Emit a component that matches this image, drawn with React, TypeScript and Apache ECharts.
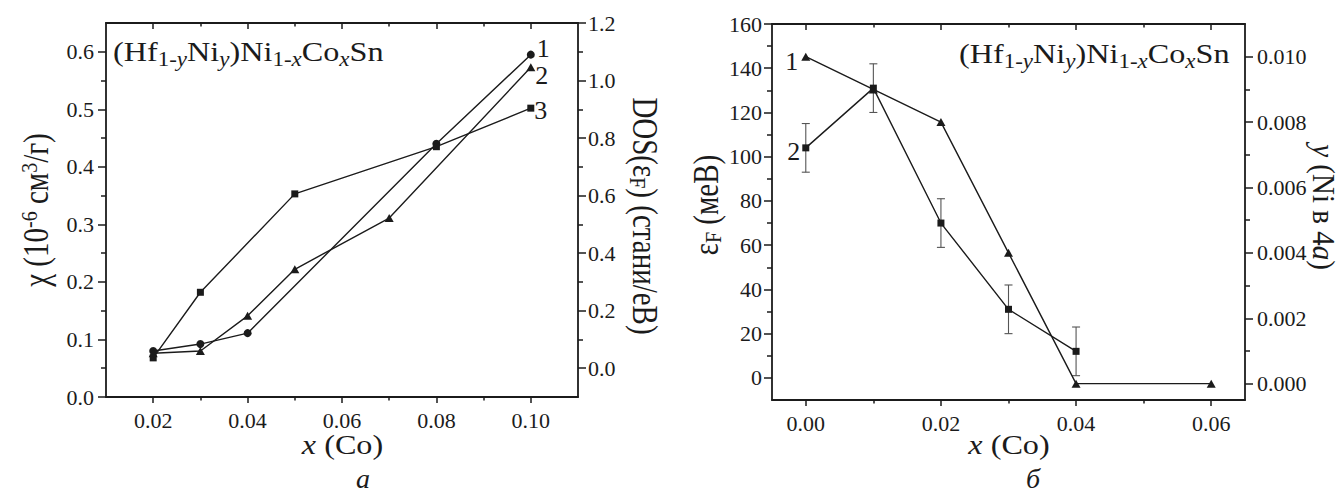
import React, { useEffect, useRef } from 'react';
import * as echarts from 'echarts';

const FONT = 'Liberation Serif';
const INK = '#1b1b1b';

// ---------- panel a ----------
const aCircX = [0.02, 0.03, 0.04, 0.08, 0.10];
const aCircY = [0.080, 0.092, 0.111, 0.440, 0.595];
const aTriX = [0.02, 0.03, 0.04, 0.05, 0.07, 0.10];
const aTriY = [0.076, 0.080, 0.141, 0.222, 0.311, 0.573];
const aSqX = [0.02, 0.03, 0.05, 0.08, 0.10];
const aSqY = [0.068, 0.182, 0.353, 0.435, 0.502];
const aCurveLabels = ['1', '2', '3'];
const aXMajor = [0.02, 0.04, 0.06, 0.08, 0.10];
const aXMinor = [0.03, 0.05, 0.07, 0.09];
const aYLMajor = [0, 0.1, 0.2, 0.3, 0.4, 0.5, 0.6];
const aYLMinor = [0.05, 0.15, 0.25, 0.35, 0.45, 0.55];
const aYRMajor = [0, 0.2, 0.4, 0.6, 0.8, 1.0, 1.2];
const aYRMinor = [0.1, 0.3, 0.5, 0.7, 0.9, 1.1];

// ---------- panel b ----------
const bTriX = [0, 0.01, 0.02, 0.03, 0.04, 0.06];
const bTriY = [0.010, 0.009, 0.008, 0.004, 0.000, 0.000];
const bSqX = [0, 0.01, 0.02, 0.03, 0.04];
const bSqY = [104, 131, 70, 31, 12];
const bSqErr = [11, 11, 11, 11, 11];
const bCurveLabels = ['1', '2'];
const bXMajor = [0, 0.02, 0.04, 0.06];
const bXMinor = [0.01, 0.03, 0.05];
const bYLMajor = [0, 20, 40, 60, 80, 100, 120, 140, 160];
const bYLMinor = [10, 30, 50, 70, 90, 110, 130, 150];
const bYRMajor = [0, 0.002, 0.004, 0.006, 0.008, 0.010];
const bYRMinor = [0.001, 0.003, 0.005, 0.007, 0.009];

type AxisSpec = {
  grid: number; pos: string; min: number; max: number; ticks: number[]; len: number;
  inside?: boolean; line?: boolean; labels?: number[]; fmt?: (v: number) => string; margin?: number;
};

function axis(s: AxisSpec) {
  return {
    type: 'value',
    gridIndex: s.grid,
    position: s.pos,
    min: s.min,
    max: s.max,
    axisLine: { show: !!s.line, onZero: false, lineStyle: { color: INK, width: 1.8 } },
    axisTick: {
      show: true, inside: !!s.inside, length: s.len, customValues: s.ticks,
      lineStyle: { color: INK, width: 1.5 },
    },
    axisLabel: s.labels
      ? { show: true, customValues: s.labels, formatter: s.fmt, margin: s.margin ?? 10, fontFamily: FONT, fontSize: 22, color: INK }
      : { show: false },
    splitLine: { show: false },
    minorTick: { show: false },
    axisPointer: { show: false },
  };
}

const f1 = (v: number) => v.toFixed(1);
const f2 = (v: number) => v.toFixed(2);
const f3 = (v: number) => v.toFixed(3);
const f0 = (v: number) => String(Math.round(v));

const xAxes = [
  // panel a
  axis({ grid: 0, pos: 'bottom', min: 0.01, max: 0.11, ticks: aXMajor, len: 6, line: true, labels: aXMajor, fmt: f2, margin: 12 }),
  axis({ grid: 0, pos: 'bottom', min: 0.01, max: 0.11, ticks: aXMinor, len: 3.5 }),
  axis({ grid: 0, pos: 'top', min: 0.01, max: 0.11, ticks: aXMajor, len: 6, inside: true, line: true }),
  axis({ grid: 0, pos: 'top', min: 0.01, max: 0.11, ticks: aXMinor, len: 3.5, inside: true }),
  // panel b
  axis({ grid: 1, pos: 'bottom', min: -0.005, max: 0.065, ticks: bXMajor, len: 6, line: true, labels: bXMajor, fmt: f2, margin: 12 }),
  axis({ grid: 1, pos: 'bottom', min: -0.005, max: 0.065, ticks: bXMinor, len: 3.5 }),
  axis({ grid: 1, pos: 'top', min: -0.005, max: 0.065, ticks: bXMajor, len: 6, inside: true, line: true }),
  axis({ grid: 1, pos: 'top', min: -0.005, max: 0.065, ticks: bXMinor, len: 3.5, inside: true }),
];

const yAxes = [
  // panel a
  axis({ grid: 0, pos: 'left', min: 0, max: 0.65, ticks: aYLMajor, len: 8, line: true, labels: aYLMajor, fmt: f1, margin: 12 }),
  axis({ grid: 0, pos: 'left', min: 0, max: 0.65, ticks: aYLMinor, len: 5 }),
  axis({ grid: 0, pos: 'right', min: -0.1, max: 1.2, ticks: aYRMajor, len: 8, line: true, labels: aYRMajor, fmt: f1, margin: 10 }),
  axis({ grid: 0, pos: 'right', min: -0.1, max: 1.2, ticks: aYRMinor, len: 5 }),
  // panel b
  axis({ grid: 1, pos: 'left', min: -10, max: 160, ticks: bYLMajor, len: 8, line: true, labels: bYLMajor, fmt: f0, margin: 10 }),
  axis({ grid: 1, pos: 'left', min: -10, max: 160, ticks: bYLMinor, len: 5 }),
  axis({ grid: 1, pos: 'right', min: -0.0005, max: 0.011, ticks: bYRMajor, len: 8, line: true, labels: bYRMajor, fmt: f3, margin: 12 }),
  axis({ grid: 1, pos: 'right', min: -0.0005, max: 0.011, ticks: bYRMinor, len: 5 }),
];

const labelBase = { show: true, fontFamily: FONT, fontSize: 26, lineHeight: 19, color: INK };

function pts(xs: number[], ys: number[], labelIdx: number, label: any) {
  return xs.map((x, i) => (i === labelIdx ? { value: [x, ys[i]], label: { ...labelBase, ...label } } : { value: [x, ys[i]] }));
}

const lineBase = {
  type: 'line',
  lineStyle: { color: INK, width: 1.4 },
  itemStyle: { color: INK },
  label: { show: false },
  silent: true,
  z: 3,
};

const series: any[] = [
  {
    ...lineBase, name: 'a1', xAxisIndex: 0, yAxisIndex: 0, symbol: 'circle', symbolSize: 8,
    data: pts(aCircX, aCircY, aCircX.length - 1, { position: 'right', distance: 2, offset: [0, -6], formatter: aCurveLabels[0] }),
  },
  {
    ...lineBase, name: 'a2', xAxisIndex: 0, yAxisIndex: 0, symbol: 'triangle', symbolSize: [9, 8],
    data: pts(aTriX, aTriY, aTriX.length - 1, { position: 'right', distance: 0, offset: [0, 8], formatter: aCurveLabels[1] }),
  },
  {
    ...lineBase, name: 'a3', xAxisIndex: 0, yAxisIndex: 0, symbol: 'rect', symbolSize: 7,
    data: pts(aSqX, aSqY, aSqX.length - 1, { position: 'right', distance: 0, offset: [0, 2], formatter: aCurveLabels[2] }),
  },
  {
    type: 'custom', name: 'bErr', xAxisIndex: 4, yAxisIndex: 4, silent: true, z: 2,
    data: bSqX.map((x, i) => [x, bSqY[i], bSqErr[i]]),
    encode: { x: 0, y: 1 },
    renderItem: (params: any, api: any) => {
      const x = api.value(0);
      const y = api.value(1);
      const e = api.value(2);
      const top = api.coord([x, y + e]);
      const bot = api.coord([x, y - e]);
      const w = 4;
      const st = { stroke: '#555', lineWidth: 1.1 };
      return {
        type: 'group',
        children: [
          { type: 'line', shape: { x1: top[0], y1: top[1], x2: bot[0], y2: bot[1] }, style: st },
          { type: 'line', shape: { x1: top[0] - w, y1: top[1], x2: top[0] + w, y2: top[1] }, style: st },
          { type: 'line', shape: { x1: bot[0] - w, y1: bot[1], x2: bot[0] + w, y2: bot[1] }, style: st },
        ],
      };
    },
  },
  {
    ...lineBase, name: 'b1', xAxisIndex: 4, yAxisIndex: 6, symbol: 'triangle', symbolSize: [9, 8],
    data: pts(bTriX, bTriY, 0, { position: 'left', distance: 3, offset: [0, 5], formatter: bCurveLabels[0] }),
  },
  {
    ...lineBase, name: 'b2', xAxisIndex: 4, yAxisIndex: 4, symbol: 'rect', symbolSize: 7,
    data: pts(bSqX, bSqY, 0, { position: 'left', distance: 2, offset: [0, 4], formatter: bCurveLabels[1] }),
  },
];

// rich text helpers
const tok = (size: number, lh: number, extra: any = {}) => ({ fontFamily: FONT, fontSize: size, lineHeight: lh, fill: INK, ...extra });

const titleRich = {
  m: tok(28, 35),
  s: tok(20, 7, { verticalAlign: 'bottom' }),
  si: tok(20, 7, { verticalAlign: 'bottom', fontStyle: 'italic' }),
};
const titleText = '{m|(Hf}{s|1-}{si|y}{m|Ni}{si|y}{m|)Ni}{s|1-}{si|x}{m|Co}{si|x}{m|Sn}';

const yRich = {
  m: tok(29, 32),
  i: tok(29, 32, { fontStyle: 'italic' }),
  p: tok(20, 10, { verticalAlign: 'top' }),
  s: tok(20, 10, { verticalAlign: 'bottom' }),
};

const yRichNarrow = {
  m: tok(29, 26),
  i: tok(29, 26, { fontStyle: 'italic' }),
};

const xRich = {
  m: tok(28, 32),
  i: tok(28, 32, { fontStyle: 'italic' }),
};

const capRich = { i: tok(28, 22, { fontStyle: 'italic' }) };

function gtext(x: number, y: number, text: string, rich: any, o: any = {}) {
  return {
    type: 'text', x, y, silent: true, z: 10,
    rotation: o.rotation ?? 0, scaleX: o.scaleX ?? 1, scaleY: o.scaleY ?? 1,
    style: { text, rich, align: o.align ?? 'center', verticalAlign: o.va ?? 'middle', fill: INK, fontFamily: FONT },
  };
}

const graphics = [
  gtext(113, 34.7, titleText, titleRich, { align: 'left', va: 'top', scaleX: 1.15 }),
  gtext(959, 36.3, titleText, titleRich, { align: 'left', va: 'top', scaleX: 1.15 }),
  gtext(342.5, 445, '{i|x}{m| (Co)}', xRich, { scaleX: 1.15 }),
  gtext(1009, 445, '{i|x}{m| (Co)}', xRich, { scaleX: 1.15 }),
  gtext(363, 478, '{i|a}', capRich),
  gtext(1033, 478, '{i|б}', capRich),
  gtext(36, 210, '{m|χ (10}{p|-6}{m| см}{p|3}{m|/г)}', yRich, { rotation: Math.PI / 2, scaleY: 1.2 }),
  gtext(645, 216, '{m|DOS(ε}{s|F}{m|) (стани/еВ)}', yRich, { rotation: -Math.PI / 2, scaleY: 1.2 }),
  gtext(706, 205, '{m|ε}{s|F}{m| (меВ)}', yRich, { rotation: Math.PI / 2, scaleY: 1.2 }),
  gtext(1323, 207, '{i|y}{m| (Ni в 4}{i|a}{m|)}', yRichNarrow, { rotation: -Math.PI / 2, scaleY: 1.1 }),
];

const option: any = {
  animation: false,
  backgroundColor: '#ffffff',
  textStyle: { fontFamily: FONT },
  grid: [
    { left: 106, top: 23, width: 472, height: 374, outerBoundsMode: 'none', containLabel: false },
    { left: 772, top: 24, width: 473, height: 376, outerBoundsMode: 'none', containLabel: false },
  ],
  xAxis: xAxes,
  yAxis: yAxes,
  series,
  graphic: graphics,
};

export default function App() {
  const ref = useRef<HTMLDivElement>(null);
  useEffect(() => {
    if (!ref.current) return;
    const chart = echarts.init(ref.current, null, { renderer: 'svg', width: 1340, height: 495 });
    chart.setOption(option);
    return () => {
      chart.dispose();
    };
  }, []);
  return (
    <div
      ref={ref}
      style={{ position: 'absolute', left: 0, top: 0, width: 1340, height: 495, background: '#ffffff' }}
    />
  );
}
